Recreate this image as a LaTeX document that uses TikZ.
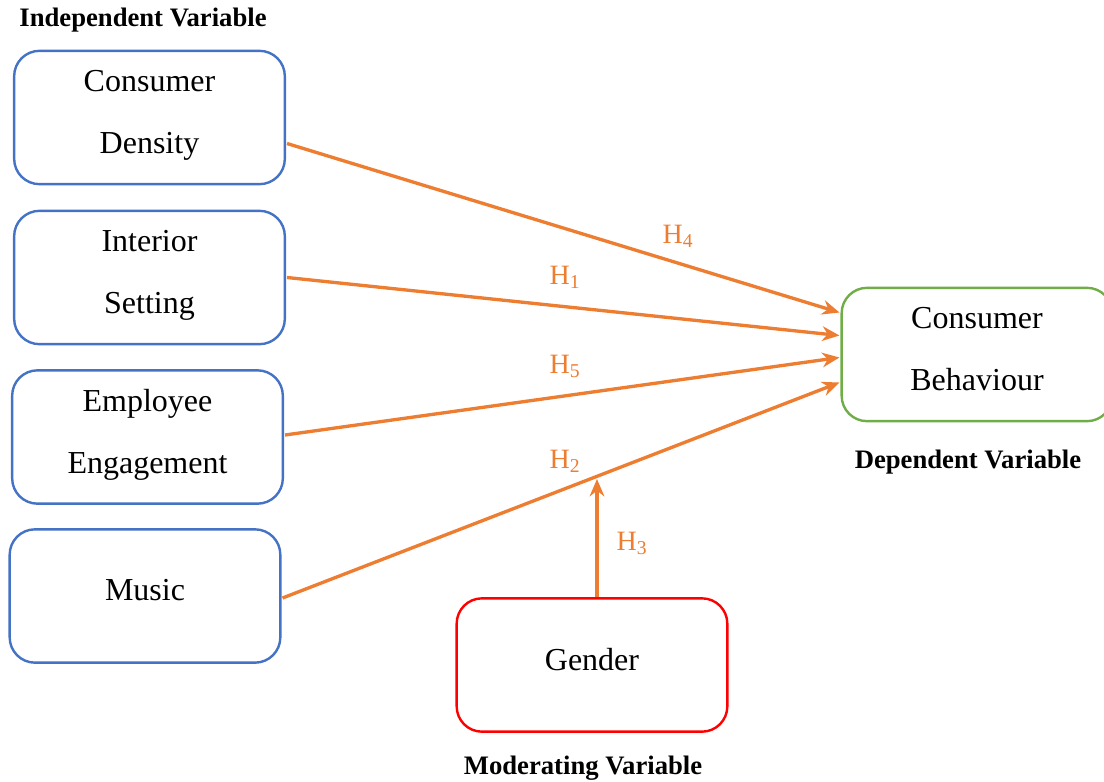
\documentclass[tikz,border=0pt]{standalone}
\usepackage{fontspec}
\setmainfont{Liberation Serif}
\usetikzlibrary{arrows.meta,calc}
\definecolor{cblue}{HTML}{4472C4}
\definecolor{corange}{HTML}{ED7D31}
\definecolor{cgreen}{HTML}{70AD47}
\definecolor{cred}{HTML}{FF0000}
\begin{document}
\begin{tikzpicture}[x=0.75pt,y=-0.75pt,
  boxstyle/.style={draw, line width=1.8pt, rounded corners=19pt, minimum width=203pt, minimum height=100pt, align=center, font=\fontsize{24}{47}\selectfont, inner sep=0pt, text depth=8.5pt},
  ivbox/.style={boxstyle, draw=cblue},
  conn/.style={draw=corange, line width=2.5pt, -{Stealth[length=13pt,width=11pt]}},
  hlabel/.style={text=corange, font=\fontsize{21}{24}\selectfont, inner sep=0pt},
  title/.style={font=\bfseries\fontsize{20}{22}\selectfont, inner sep=0pt}]
\useasboundingbox (0,0) rectangle (1104,782);
\node[title] (tiv) at (143,20) {Independent Variable};
\node[title] (tdv) at (968,462) {Dependent Variable};
\node[title] (tmv) at (583,768) {Moderating Variable};
\node[ivbox] (cd) at (149.5,117.5) {Consumer\\Density};
\node[ivbox] (is) at (149.5,277.5) {Interior\\Setting};
\node[ivbox] (ee) at (147.5,437) {Employee\\Engagement};
\node[ivbox] (mu) at (145,596) {Music};
\node[boxstyle, draw=cred] (ge) at (592,665) {Gender};
\node[boxstyle, draw=cgreen] (cb) at (977,354.5) {Consumer\\Behaviour};
\coordinate (h2pt) at (597,479);
\draw[conn] ($(cd.east)+(1,26)$) -- ($(cb.west)+(-1,-42)$);
\draw[conn] ($(is.east)+(1,0)$) -- ($(cb.west)+(-1,-19)$);
\draw[conn] ($(ee.east)+(1,-2)$) -- ($(cb.west)+(-1,3)$);
\draw[conn] ($(mu.east)+(1,2)$) -- ($(cb.west)+(-1,28)$);
\draw[conn] ($(ge.north)+(5,0)$) -- (h2pt);
\node[hlabel] (h4) at (678,236) {H\textsubscript{4}};
\node[hlabel] (h1) at (565,277) {H\textsubscript{1}};
\node[hlabel] (h5) at (565,366) {H\textsubscript{5}};
\node[hlabel] (h2) at (565,461) {H\textsubscript{2}};
\node[hlabel] (h3) at (632,543) {H\textsubscript{3}};
\end{tikzpicture}
\end{document}
